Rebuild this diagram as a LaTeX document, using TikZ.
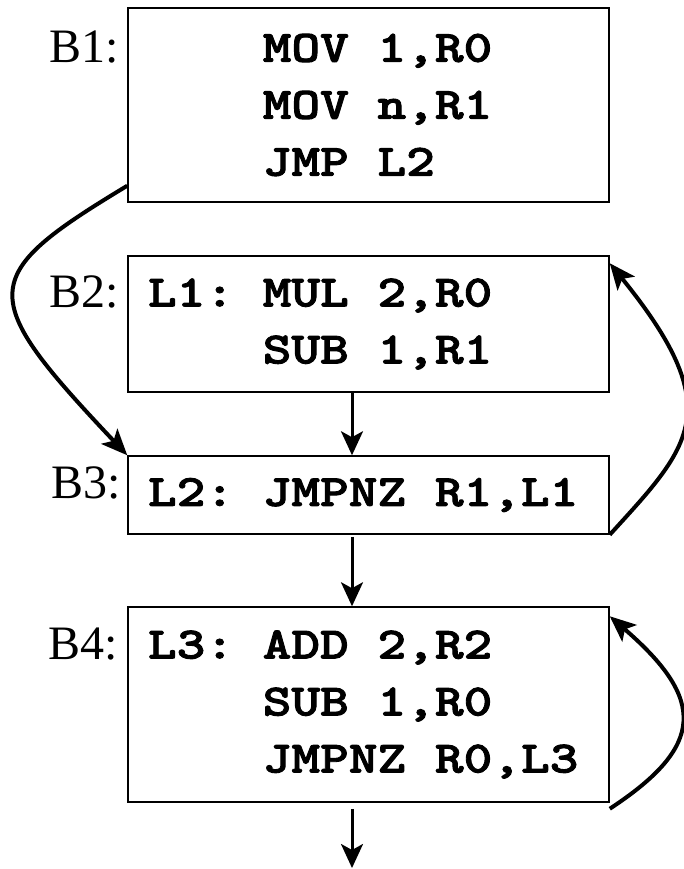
\documentclass[tikz,border=0pt]{standalone}
\usepackage{fontspec}
\setmainfont{Liberation Serif}
\newfontfamily\codefont{lmmonolt10-bold.otf}[FakeStretch=1.22,FakeBold=2]
\newcommand\chsp{\phantom{M}}
\newcommand\indt{\phantom{MMMM}}
\usetikzlibrary{arrows.meta}
\begin{document}
\begin{tikzpicture}[x=1pt,y=-1pt,
  blk/.style={draw, line width=1.5pt, text width=441pt, inner xsep=20pt, inner ysep=0pt,
    align=left, font=\codefont\fontsize{44.8}{57}\selectfont},
  lbl/.style={anchor=base east, inner sep=0pt, font=\fontsize{48}{58}\selectfont},
  flow/.style={-{Stealth[length=24pt,width=22pt,inset=6pt]}, line width=3pt},
  back/.style={-{Stealth[length=26pt,width=22pt,inset=6pt]}, line width=4pt}]
\useasboundingbox (0,0) rectangle (684,869);
\node[blk, minimum height=194pt] (b1) at (368.5,105)
  {\indt MOV\chsp 1,R0\\\indt MOV\chsp n,R1\\\indt JMP\chsp L2};
\node[blk, minimum height=136pt] (b2) at (368.5,324)
  {L1:\chsp MUL\chsp 2,R0\\\indt SUB\chsp 1,R1};
\node[blk, minimum height=78pt] (b3) at (368.5,495)
  {L2:\chsp JMPNZ\chsp R1,L1};
\node[blk, minimum height=195pt] (b4) at (368.5,704.5)
  {L3:\chsp ADD\chsp 2,R2\\\indt SUB\chsp 1,R0\\\indt JMPNZ\chsp R0,L3};
\node[lbl] (l1) at (119,63) {B1:};
\node[lbl] (l2) at (119,307) {B2:};
\node[lbl] (l3) at (121,498) {B3:};
\node[lbl] (l4) at (118,659) {B4:};
\coordinate (ax) at (352,0);
\coordinate (exit) at (352,868);
\draw[flow] (b2.south -| ax) -- (b3.north -| ax);
\draw[flow] (b3.south -| ax) ++(0,2) -- (b4.north -| ax);
\draw[flow] (b4.south -| ax) ++(0,6) -- (exit);
\draw[back] ([yshift=17pt]b1.south west) .. controls +(-151,91) and +(-151,-160) .. (b3.north west);
\draw[back] (b3.south east) .. controls +(81,-89) and +(119,147) .. ([yshift=-8pt]b2.north east);
\draw[back] ([yshift=-6pt]b4.south east) .. controls +(96,-63) and +(96,83) .. ([yshift=-10pt]b4.north east);
\end{tikzpicture}
\end{document}
